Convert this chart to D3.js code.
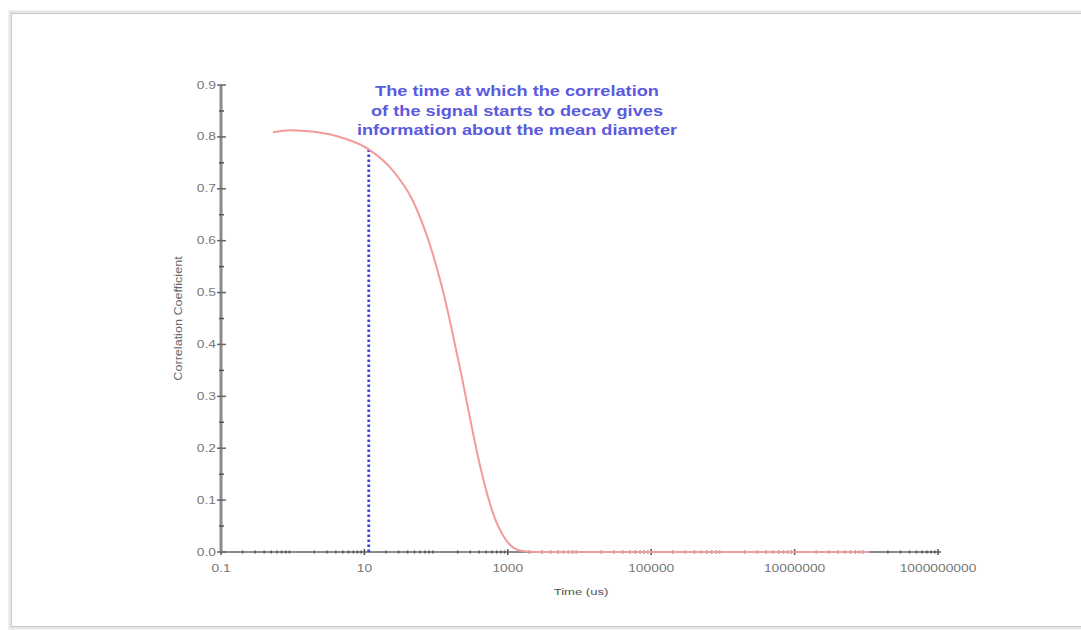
<!DOCTYPE html>
<html>
<head>
<meta charset="utf-8">
<script src="https://cdn.jsdelivr.net/npm/d3@7"></script>
<style>
  body { margin: 0; background: #fff; }
  svg { display: block; font-family: "Liberation Sans", Arial, sans-serif; }
</style>
</head>
<body>
<div class="chart"></div>
<script>
// correlation curve (time in us)
var times = [0.53, 0.92, 2, 5, 11.5, 25, 47, 82, 120, 166, 228, 295, 407, 618, 968, 1470, 2500, 1e5, 1e7, 1.1e8];
var corr = [0.809, 0.813, 0.810, 0.798, 0.776, 0.735, 0.678, 0.592, 0.512, 0.428, 0.338, 0.260, 0.168, 0.076, 0.021, 0.003, 0, 0, 0, 0];

var xTickValues = [0.1, 10, 1000, 100000, 10000000, 1000000000];
var yTickValues = [0, 0.1, 0.2, 0.3, 0.4, 0.5, 0.6, 0.7, 0.8, 0.9];
var yMinorValues = [0.05, 0.15, 0.25, 0.35, 0.45, 0.55, 0.65, 0.75, 0.85];
var markerTime = 11.5;
var markerCorr = 0.776;
var noteLines = [
    'The time at which the correlation',
    'of the signal starts to decay gives',
    'information about the mean diameter'
];

var W = 1081, H = 630;
var stretch = 1.38; // the source image is stretched sideways

var svg = d3.select('.chart').append('svg')
    .attr('width', W)
    .attr('height', H);

// picture frame
svg.append('rect')
    .attr('x', 10.5).attr('y', 12.5)
    .attr('width', 1100).attr('height', 615)
    .style('fill', 'none')
    .style('stroke', '#e6e6e6')
    .style('stroke-width', 4);
svg.append('rect')
    .attr('x', 11.5).attr('y', 13.5)
    .attr('width', 1100).attr('height', 613)
    .style('fill', '#fff')
    .style('stroke', '#c8c8c8')
    .style('stroke-width', 1);

var x = d3.scaleLog().domain([0.1, 1e9]).range([221, 938]);
var y = d3.scaleLinear().domain([0, 0.9]).range([552, 85]);

var axisColor = '#8a8a8a';
var labelColor = '#777';

function stretchedText(sel, tx, ty, sx, sy) {
    return sel.attr('transform', function(d, i){
        return 'translate(' + tx(d, i) + ',' + ty(d, i) + ')scale(' + sx + ',' + sy + ')';
    });
}

// x minor ticks
var xMinor = [];
for (var e = -1; e < 9; e++) {
    for (var m = 2; m <= 9; m++) xMinor.push(m * Math.pow(10, e));
}

var xAxisG = svg.append('g');
xAxisG.append('line')
    .attr('x1', x(0.1)).attr('x2', x(1e9) + 3)
    .attr('y1', y(0)).attr('y2', y(0))
    .style('stroke', axisColor)
    .style('stroke-width', 2);
xAxisG.selectAll('.minor').data(xMinor).enter().append('line')
    .attr('class', 'minor')
    .attr('x1', function(d){ return x(d); })
    .attr('x2', function(d){ return x(d); })
    .attr('y1', y(0) - 1.5).attr('y2', y(0) + 1.5)
    .style('stroke', '#555')
    .style('stroke-width', 1.5);
xAxisG.selectAll('.major').data(xTickValues).enter().append('line')
    .attr('class', 'major')
    .attr('x1', function(d){ return x(d); })
    .attr('x2', function(d){ return x(d); })
    .attr('y1', y(0) - 3).attr('y2', y(0) + 3)
    .style('stroke', '#555')
    .style('stroke-width', 1.5);
xAxisG.selectAll('text').data(xTickValues).enter().append('text')
    .call(stretchedText, function(d){ return x(d); }, function(){ return 572; }, stretch, 1)
    .attr('text-anchor', 'middle')
    .style('font-size', '10px')
    .style('fill', labelColor)
    .text(function(d){ return d === 0.1 ? '0.1' : d3.format('d')(d); });

// y axis
var yAxisG = svg.append('g');
yAxisG.append('line')
    .attr('x1', 221).attr('x2', 221)
    .attr('y1', y(0)).attr('y2', y(0.9))
    .style('stroke', axisColor)
    .style('stroke-width', 3);
yAxisG.selectAll('.major').data(yTickValues).enter().append('line')
    .attr('x1', 217).attr('x2', 226)
    .attr('y1', function(d){ return y(d); })
    .attr('y2', function(d){ return y(d); })
    .style('stroke', '#666')
    .style('stroke-width', 1.5);
yAxisG.selectAll('.minor').data(yMinorValues).enter().append('line')
    .attr('x1', 219).attr('x2', 224)
    .attr('y1', function(d){ return y(d); })
    .attr('y2', function(d){ return y(d); })
    .style('stroke', '#555')
    .style('stroke-width', 1.5);
yAxisG.selectAll('text').data(yTickValues).enter().append('text')
    .call(stretchedText, function(){ return 216; }, function(d){ return y(d) + 3.5; }, stretch, 1)
    .attr('text-anchor', 'end')
    .style('font-size', '10px')
    .style('fill', labelColor)
    .text(function(d){ return d3.format('.1f')(d); });

// axis titles
svg.append('text')
    .attr('transform', 'translate(182,' + y(0.45) + ')rotate(-90)scale(1.4,1.15)')
    .attr('text-anchor', 'middle')
    .style('font-size', '9px')
    .style('fill', '#666')
    .text('Correlation Coefficient');
svg.append('text')
    .attr('transform', 'translate(581,595)scale(1.45,1.1)')
    .attr('text-anchor', 'middle')
    .style('font-size', '9px')
    .style('fill', '#555')
    .text('Time (us)');

// blue dotted marker
svg.append('line')
    .attr('x1', x(markerTime)).attr('x2', x(markerTime))
    .attr('y1', y(0)).attr('y2', y(markerCorr))
    .style('stroke', '#4040e0')
    .style('stroke-width', 2.8)
    .style('stroke-dasharray', '2.5,2.5');

// correlation curve
var line = d3.line()
    .x(function(d){ return x(d[0]); })
    .y(function(d){ return y(d[1]); })
    .curve(d3.curveMonotoneX);

svg.append('path')
    .datum(d3.zip(times, corr))
    .attr('d', line)
    .style('fill', 'none')
    .style('stroke', '#f49a9a')
    .style('stroke-width', 2);

// annotation
svg.append('g').selectAll('text').data(noteLines).enter().append('text')
    .call(stretchedText, function(){ return 517; }, function(d, i){ return 96 + i * 19.5; }, 1.3, 1)
    .attr('text-anchor', 'middle')
    .style('font-size', '14px')
    .style('font-weight', 'bold')
    .style('fill', '#5a5ade')
    .text(function(d){ return d; });
</script>
</body>
</html>
